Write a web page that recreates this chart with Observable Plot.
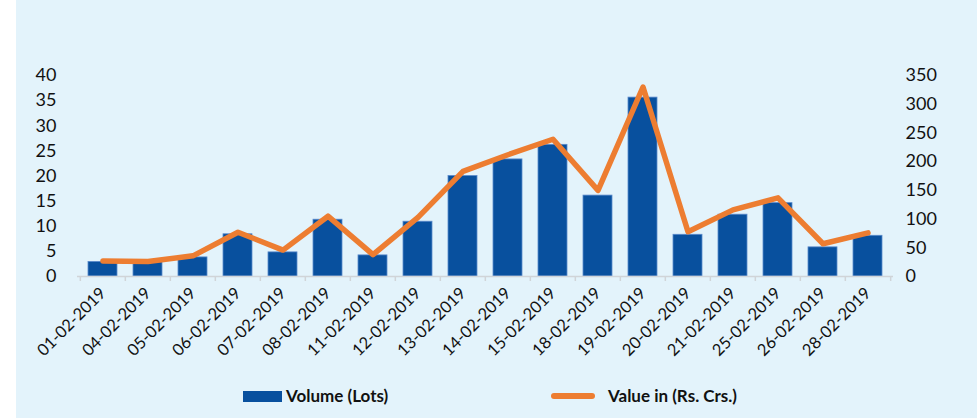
<!DOCTYPE html>
<html>
<head>
<meta charset="utf-8">
<script src="https://cdn.jsdelivr.net/npm/d3@7"></script>
<script src="https://cdn.jsdelivr.net/npm/@observablehq/plot@0.6"></script>
<style>
  html, body { margin: 0; padding: 0; background: #ffffff; }
  #frame { position: absolute; left: 16px; top: 0; width: 961px; height: 418px; background: #E3F3FB; overflow: hidden; font-family: Lato, "Open Sans", sans-serif; }
  #chart { position: absolute; left: 0; top: 0; }
  .leg { position: absolute; font-weight: bold; font-size: 17px; color: #111; line-height: 20px; white-space: nowrap; }
  .sw { position: absolute; }
</style>
</head>
<body>
<div id="frame">
  <div id="chart"></div>
  <div class="sw" style="left:227px;top:391px;width:39px;height:11px;background:#08509E;"></div>
  <div class="leg" style="left:270px;top:386px;">Volume (Lots)</div>
  <div class="sw" style="left:535px;top:393px;width:44px;height:6px;border-radius:3px;background:#ED7D31;"></div>
  <div class="leg" style="left:592px;top:386px;">Value in (Rs. Crs.)</div>
</div>
<script>
const dates = ["01-02-2019","04-02-2019","05-02-2019","06-02-2019","07-02-2019","08-02-2019","11-02-2019","12-02-2019","13-02-2019","14-02-2019","15-02-2019","18-02-2019","19-02-2019","20-02-2019","21-02-2019","25-02-2019","26-02-2019","28-02-2019"];
const volumeLots = [2.9, 2.9, 3.8, 8.4, 4.8, 11.3, 4.2, 10.9, 20.0, 23.3, 26.2, 16.1, 35.6, 8.3, 12.3, 14.6, 5.8, 8.1];
const valueCrs = [27, 26, 36, 77, 46, 105, 38, 103, 183, 212, 239, 150, 330, 78, 116, 137, 57, 76];
const leftTicks = [0, 5, 10, 15, 20, 25, 30, 35, 40];
const rightTicks = [0, 50, 100, 150, 200, 250, 300, 350];

const data = dates.map((d, i) => ({date: d, volume: volumeLots[i], value: valueCrs[i]}));
// secondary axis mapped into primary units
const y2 = d3.scaleLinear().domain([0, 350]).range([0, 40]);

const W = 961, mL = 61, mR = 84;
const step = (W - mL - mR) / dates.length;

const plot = Plot.plot({
  width: W,
  height: 370,
  marginLeft: mL,
  marginRight: mR,
  marginTop: 75,
  marginBottom: 94,
  style: {background: "transparent", fontFamily: "Lato, 'Open Sans', sans-serif", color: "#111", overflow: "visible"},
  x: {domain: dates, paddingInner: 0.35, paddingOuter: 0.175, label: null},
  y: {domain: [0, 40], label: null},
  marks: [
    Plot.barY(data, {x: "date", y: "volume", fill: "#08509E", stroke: "#5B8ACB", strokeWidth: 0.8}),
    Plot.ruleY([0], {stroke: "#D0D4D8", strokeWidth: 1.5}),
    Plot.ruleX(dates, {x: d => d, y1: 0, y2: -1, dx: -step / 2, stroke: "#D0D4D8", strokeWidth: 1.5}),
    Plot.ruleX([dates[dates.length - 1]], {x: d => d, y1: 0, y2: -1, dx: step / 2, stroke: "#D0D4D8", strokeWidth: 1.5}),
    Plot.line(data, {x: "date", y: d => y2(d.value), stroke: "#ED7D31", strokeWidth: 5.5, strokeLinejoin: "round", strokeLinecap: "round"}),
    Plot.axisY(leftTicks, {anchor: "left", tickSize: 0, tickPadding: 21, fontSize: 18, label: null}),
    Plot.axisY(rightTicks.map(t => y2(t)), {anchor: "right", tickSize: 0, tickPadding: 12, fontSize: 18, label: null, tickFormat: d => String(Math.round(y2.invert(d)))}),
    Plot.axisX(dates, {tickSize: 0, tickPadding: 14, tickRotate: -45, fontSize: 16.5, label: null})
  ]
});
document.getElementById("chart").appendChild(plot);
</script>
</body>
</html>
